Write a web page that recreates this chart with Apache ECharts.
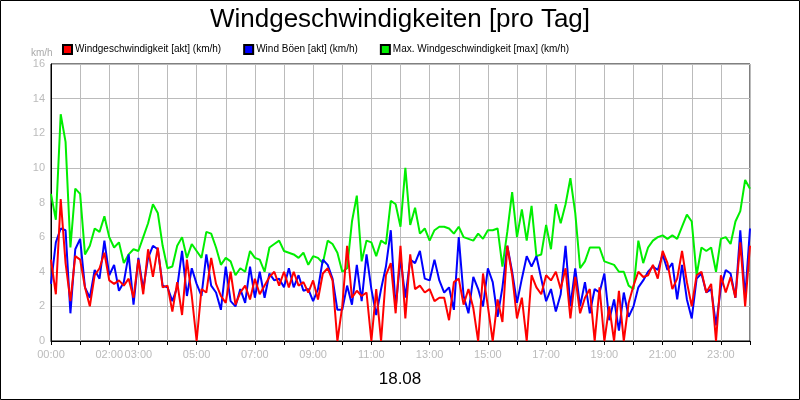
<!DOCTYPE html>
<html><head><meta charset="utf-8">
<script src="https://cdn.jsdelivr.net/npm/echarts@6/dist/echarts.min.js"></script>
<style>html,body{margin:0;padding:0;background:#fff}#c{width:800px;height:400px}</style>
</head><body><div id="c"></div>
<script>
// 10-minute samples, 00:00 .. 24:00
const stepHours = 1/6;
const windAkt = [
4.7,2.7,8.2,4.5,2.3,4.9, 4.7,3.1,2.0,3.8,4.2,5.1, 3.5,3.3,3.5,3.2,3.6,2.5, 4.7,2.7,5.3,3.7,5.4,3.1,
3.2,1.7,3.4,1.5,4.7,2.6, 0.0,3.0,2.8,4.8,3.3,2.6, 2.2,4.0,2.1,2.8,3.2,2.4, 3.6,2.7,3.2,3.7,4.0,3.2,
4.0,3.1,4.0,3.2,3.4,2.8, 3.5,2.4,3.9,4.2,3.5,0.0, 2.0,5.5,2.5,2.9,2.6,2.8, 0.0,3.0,0.0,3.8,4.5,1.6,
5.5,1.3,5.0,3.0,3.2,2.8, 3.0,2.3,2.5,2.5,1.2,3.4, 3.6,2.1,3.0,1.9,0.0,3.9, 2.0,0.0,2.4,1.1,5.5,3.8,
1.3,2.5,0.0,3.8,3.1,2.7, 3.8,3.5,4.0,3.0,4.2,1.3, 3.7,1.6,2.5,3.0,0.0,3.1, 0.0,2.0,0.0,2.9,0.0,2.2,
3.2,4.0,3.7,3.8,4.4,3.6, 5.2,4.5,3.0,3.6,5.2,3.4, 2.0,3.8,4.0,2.8,3.3,0.0, 3.8,2.8,3.7,2.5,5.7,2.0,
5.5];
const windBoeen = [
3.3,5.7,6.5,6.4,1.6,5.3, 5.9,3.1,2.5,4.1,3.6,5.8, 3.8,4.4,2.9,3.4,5.0,2.1, 4.8,3.0,4.8,5.5,5.3,3.2,
3.1,2.3,3.1,5.2,2.6,4.2, 3.3,2.6,5.0,3.2,2.8,1.8, 4.3,2.3,2.0,3.0,2.2,4.3, 2.5,4.0,2.5,3.9,3.5,3.6,
3.1,4.2,3.1,3.8,2.9,3.0, 2.3,3.0,4.7,4.4,3.6,1.8, 1.8,3.2,2.1,4.4,2.3,5.0, 3.0,1.5,3.0,4.3,6.4,1.9,
4.8,2.5,4.7,4.5,5.2,3.6, 3.5,4.7,3.5,2.8,3.1,1.8, 6.0,2.6,1.6,3.7,3.0,2.0, 4.2,3.4,1.4,3.1,5.5,4.0,
2.2,3.6,4.9,4.3,4.9,3.6, 2.3,3.0,1.7,2.7,5.5,2.0, 4.2,2.0,3.4,1.6,3.0,2.8, 3.9,1.2,2.4,0.6,2.8,1.4,
2.0,3.1,3.5,4.0,4.3,4.1, 5.0,4.1,4.5,2.4,4.4,2.4, 1.3,3.6,3.9,2.8,3.0,0.9, 3.1,4.1,3.9,2.5,6.4,2.5,
6.5];
const windMax = [
8.5,7.0,13.1,11.5,5.4,8.8, 8.5,5.0,5.5,6.5,6.3,7.2, 6.0,5.4,5.7,4.5,5.0,5.3, 5.2,6.0,6.8,7.9,7.4,5.5,
4.2,4.3,5.5,6.0,4.8,5.6, 5.2,4.8,6.3,6.2,5.4,4.4, 4.8,4.6,3.8,4.2,4.0,5.2, 4.8,4.7,4.0,5.4,5.6,5.8,
5.2,5.1,5.0,4.8,5.1,4.4, 4.9,4.8,4.5,5.8,5.6,5.1, 4.0,4.2,6.9,8.4,4.6,5.8, 5.7,4.9,5.8,5.6,8.1,7.9,
6.6,10.0,6.7,7.7,6.2,6.5, 5.8,6.4,6.6,6.6,6.5,6.2, 6.6,6.0,5.9,5.8,6.2,5.9, 6.4,6.4,6.5,4.3,6.3,8.6,
6.0,7.6,5.8,7.8,4.9,5.0, 6.7,5.3,7.9,6.8,7.9,9.4, 7.4,4.2,4.6,5.4,5.4,5.4, 4.6,4.5,4.4,4.0,4.0,3.2,
3.0,5.8,4.5,5.4,5.8,6.0, 6.1,5.9,6.1,5.9,6.6,7.3, 6.9,3.8,5.4,5.2,5.4,4.0, 5.9,6.0,5.6,6.9,7.5,9.3,
8.8];
const shownHourLabels = [0,2,3,5,7,9,11,13,15,17,19,21,23];
const seriesNames = ['Windgeschwindigkeit [akt] (km/h)','Wind Böen [akt] (km/h)','Max. Windgeschwindigkeit [max] (km/h)'];
const colors = ['#ff0000','#0000ff','#00ee00'];

const pairs = arr => arr.map((v,i)=>[i*stepHours, v]);
const font = 'Liberation Sans, Arial, sans-serif';
const chart = echarts.init(document.getElementById('c'));
const mk = (name, data, color, z) => ({
  name, type:'line', data: pairs(data), showSymbol:false, symbol:'none',
  lineStyle:{color, width:2}, itemStyle:{color, borderColor:'#000', borderWidth:1}, z, animation:false
});
chart.setOption({
  animation:false,
  textStyle:{fontFamily:font},
  title:[
    {text:'Windgeschwindigkeiten [pro Tag]', left:'center', top:2, textStyle:{fontSize:26, fontWeight:'normal', color:'#000', fontFamily:font}},
    {text:'18.08', left:'center', top:366, textStyle:{fontSize:17, fontWeight:'normal', color:'#000', fontFamily:font}},
    {text:'km/h', left:26, top:43, textStyle:{fontSize:10, fontWeight:'normal', color:'#aaa', fontFamily:font}}
  ],
  legend:{left:57, top:39, itemWidth:9, itemHeight:9, itemGap:22, icon:'rect',
    textStyle:{fontSize:10, color:'#000', fontFamily:font, padding:[0,0,0,-2]},
    data:seriesNames},
  grid:{left:51, right:50, top:64, bottom:59, show:true, borderColor:'#000', borderWidth:1, backgroundColor:'#fff'},
  xAxis:{type:'value', min:0, max:24, interval:1,
    axisLine:{show:true, lineStyle:{color:'#000'}},
    axisTick:{show:true, length:4, lineStyle:{color:'#000'}},
    splitLine:{show:true, lineStyle:{color:'#bbb', width:1}},
    axisLabel:{color:'#bbb', fontSize:11, fontFamily:font, showMaxLabel:true,
      formatter:v => shownHourLabels.includes(v) ? String(v).padStart(2,'0')+':00' : ''}},
  yAxis:{type:'value', min:0, max:16, interval:2,
    axisLine:{show:true, lineStyle:{color:'#000'}},
    axisTick:{show:false},
    splitLine:{show:true, lineStyle:{color:'#bbb', width:1}},
    axisLabel:{color:'#bbb', fontSize:11, fontFamily:font, margin:6}},
  graphic:[{type:'rect', shape:{x:0.5,y:0.5,width:799,height:399}, style:{fill:'none', stroke:'#000', lineWidth:1}, silent:true}],
  series:[
    mk(seriesNames[0], windAkt, colors[0], 4),
    mk(seriesNames[1], windBoeen, colors[1], 3),
    mk(seriesNames[2], windMax, colors[2], 2)
  ]
});
</script></body></html>
